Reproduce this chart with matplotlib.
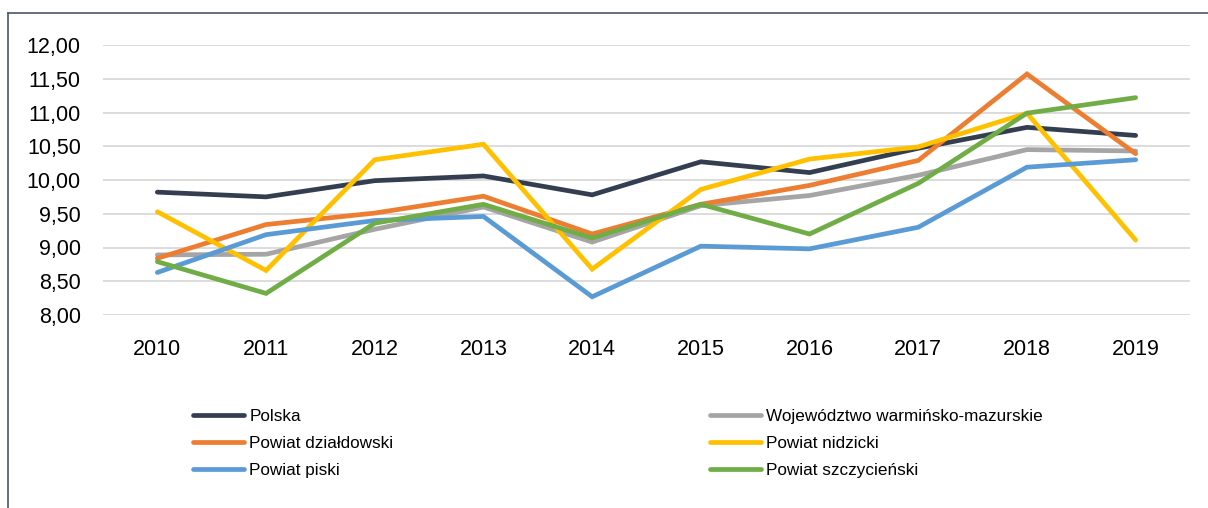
import matplotlib
matplotlib.use("Agg")
import matplotlib.pyplot as plt
from matplotlib.lines import Line2D

plt.rcParams['font.family'] = ['Liberation Sans', 'DejaVu Sans']

years = ['2010', '2011', '2012', '2013', '2014', '2015', '2016', '2017', '2018', '2019']

polska = [9.82, 9.75, 9.99, 10.06, 9.78, 10.27, 10.11, 10.47, 10.78, 10.66]
wojewodztwo = [8.89, 8.90, 9.27, 9.60, 9.08, 9.62, 9.77, 10.07, 10.45, 10.43]
dzialdowski = [8.84, 9.34, 9.51, 9.76, 9.20, 9.64, 9.92, 10.29, 11.57, 10.39]
nidzicki = [9.53, 8.66, 10.30, 10.53, 8.68, 9.86, 10.31, 10.49, 10.99, 9.11]
piski = [8.63, 9.19, 9.40, 9.46, 8.27, 9.02, 8.98, 9.30, 10.19, 10.30]
szczycienski = [8.79, 8.32, 9.36, 9.64, 9.14, 9.64, 9.20, 9.95, 10.99, 11.22]

names = ['Polska', 'Województwo warmińsko-mazurskie', 'Powiat działdowski',
         'Powiat nidzicki', 'Powiat piski', 'Powiat szczycieński']
series = [polska, wojewodztwo, dzialdowski, nidzicki, piski, szczycienski]
colors = ['#333f50', '#a5a5a5', '#ed7d31', '#ffc000', '#5b9bd5', '#70ad47']

W, H = 1208, 508
fig = plt.figure(figsize=(W / 100, H / 100), dpi=100)
ax = fig.add_axes([103 / W, 1 - 315 / H, (1190 - 103) / W, (315 - 45) / H])

x = list(range(len(years)))
lines = []
for vals, c, n in zip(series, colors, names):
    ln, = ax.plot(x, vals, color=c, lw=3.4, label=n, solid_joinstyle='miter',
                  solid_capstyle='round')
    lines.append(ln)

ax.set_xlim(-0.5, len(years) - 0.5)
ax.set_ylim(8, 12)
ax.set_yticks([8 + 0.5 * i for i in range(9)])
ax.set_yticklabels([f"{8 + 0.5 * i:.2f}".replace('.', ',') for i in range(9)])
ax.set_xticks(x)
ax.set_xticklabels(years)
ax.tick_params(axis='y', length=0, pad=16, labelsize=15.5, colors='black')
ax.tick_params(axis='x', length=0, pad=17, labelsize=15.5, colors='black')
ax.grid(axis='y', color='#d9d9d9', lw=1.3)
ax.set_axisbelow(True)
for s in ax.spines.values():
    s.set_visible(False)

# outer chart frame (left and top visible)
fig.add_artist(Line2D([8 / W, 8 / W], [0, 1 - 13 / H], color='#4a5570', lw=1.2))
fig.add_artist(Line2D([8 / W, 1], [1 - 13 / H, 1 - 13 / H], color='#4a5570', lw=1.2))

col1 = [lines[0], lines[2], lines[4]]
col2 = [lines[1], lines[3], lines[5]]
leg_kw = dict(loc='upper left', frameon=False, fontsize=12.3, handlelength=3.0,
              handletextpad=0.3, labelspacing=0.7, borderpad=0, borderaxespad=0)
leg1 = fig.legend(handles=col1, bbox_to_anchor=(193 / W, 1 - 409 / H), **leg_kw)
leg2 = fig.legend(handles=col2, bbox_to_anchor=(710 / W, 1 - 409 / H), **leg_kw)

fig.savefig('out.png', dpi=100)
